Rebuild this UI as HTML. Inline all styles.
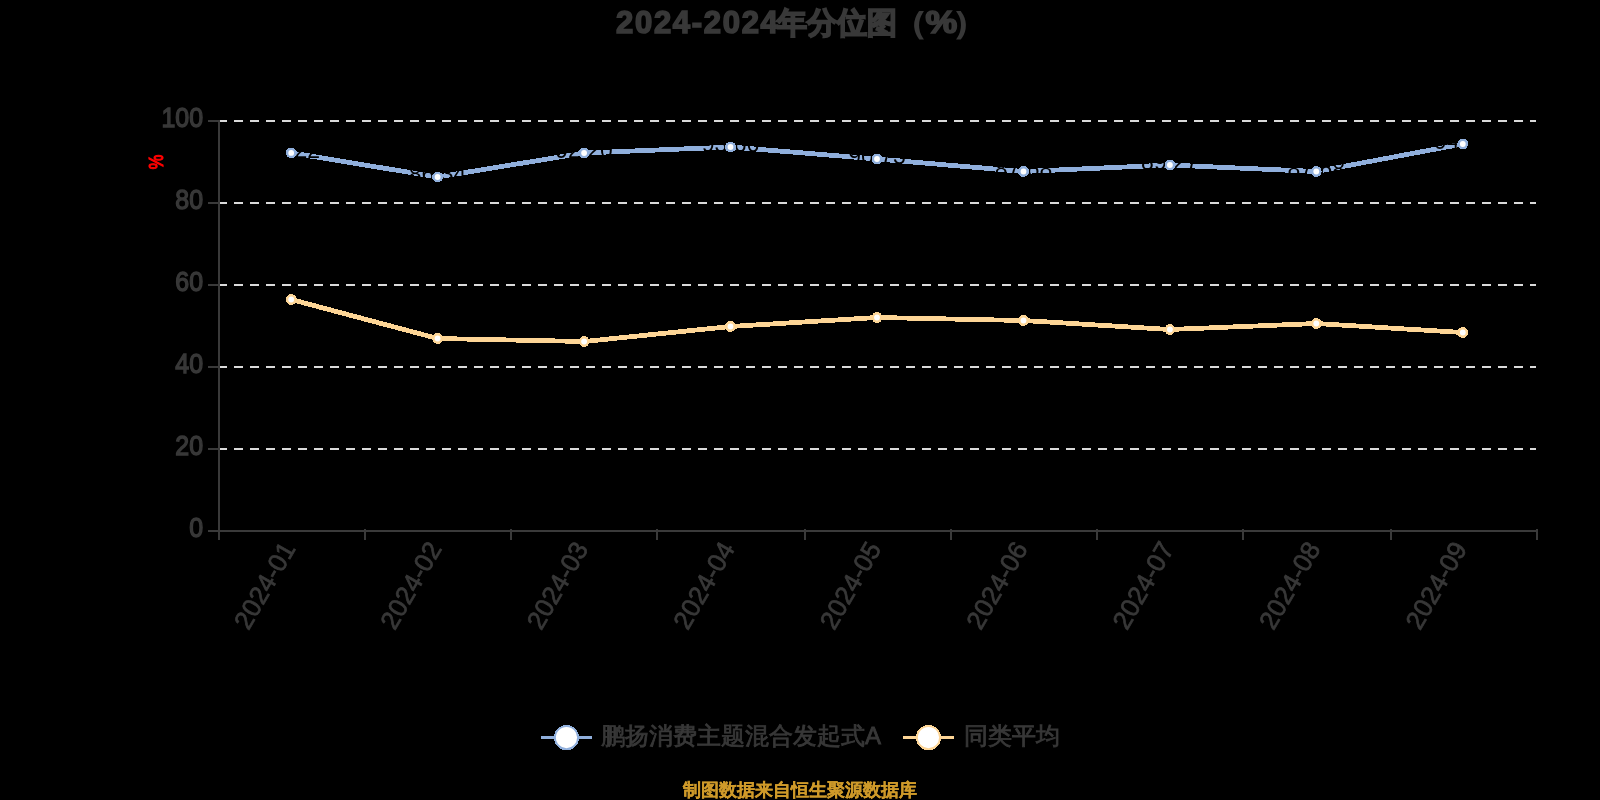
<!DOCTYPE html>
<html><head><meta charset="utf-8"><style>
html,body{margin:0;padding:0;background:#000;width:1600px;height:800px;overflow:hidden}
svg{display:block;will-change:transform}
text{font-family:"Liberation Sans",sans-serif}
.yl{font-size:28px;fill:#383838;stroke:#383838;stroke-width:1.4px}
.xl{font-size:26px;fill:#383838;stroke:#383838;stroke-width:0.7px}
.lab{font-size:23px;fill:#000}
.yn{font-size:21px;fill:#f00;stroke:#f00;stroke-width:1.2px}
.ti{font-size:31px;font-weight:bold;fill:#383838;stroke:#383838;stroke-width:1.6px}
.cj{stroke-width:1.7px;font-size:29.5px}
.lg{font-size:24px;fill:#383838;stroke:#383838;stroke-width:0.8px}
.ft{font-size:18px;font-weight:bold;fill:#cf9a2a;stroke:#cf9a2a;stroke-width:0.2px}
</style></head><body>
<svg width="1600" height="800" viewBox="0 0 1600 800">
<rect width="1600" height="800" fill="#000"/>
<line x1="218" y1="449" x2="1536" y2="449" stroke="#dadada" stroke-width="2" stroke-dasharray="9 7"/>
<line x1="218" y1="367" x2="1536" y2="367" stroke="#dadada" stroke-width="2" stroke-dasharray="9 7"/>
<line x1="218" y1="285" x2="1536" y2="285" stroke="#dadada" stroke-width="2" stroke-dasharray="9 7"/>
<line x1="218" y1="203" x2="1536" y2="203" stroke="#dadada" stroke-width="2" stroke-dasharray="9 7"/>
<line x1="218" y1="121" x2="1536" y2="121" stroke="#dadada" stroke-width="2" stroke-dasharray="9 7"/>
<rect x="218" y="120" width="2" height="420" fill="#3a3a3a"/>
<rect x="208" y="530" width="10" height="2" fill="#3a3a3a"/>
<text transform="translate(203,537) scale(0.89,1)" text-anchor="end" class="yl">0</text>
<rect x="208" y="448" width="10" height="2" fill="#3a3a3a"/>
<text transform="translate(203,455) scale(0.89,1)" text-anchor="end" class="yl">20</text>
<rect x="208" y="366" width="10" height="2" fill="#3a3a3a"/>
<text transform="translate(203,373) scale(0.89,1)" text-anchor="end" class="yl">40</text>
<rect x="208" y="284" width="10" height="2" fill="#3a3a3a"/>
<text transform="translate(203,291) scale(0.89,1)" text-anchor="end" class="yl">60</text>
<rect x="208" y="202" width="10" height="2" fill="#3a3a3a"/>
<text transform="translate(203,209) scale(0.89,1)" text-anchor="end" class="yl">80</text>
<rect x="208" y="120" width="10" height="2" fill="#3a3a3a"/>
<text transform="translate(203,127) scale(0.89,1)" text-anchor="end" class="yl">100</text>
<rect x="208" y="530" width="1330" height="2" fill="#3a3a3a"/>
<rect x="218" y="529" width="2" height="11" fill="#3a3a3a"/>
<rect x="364" y="529" width="2" height="11" fill="#3a3a3a"/>
<rect x="510" y="529" width="2" height="11" fill="#3a3a3a"/>
<rect x="656" y="529" width="2" height="11" fill="#3a3a3a"/>
<rect x="804" y="529" width="2" height="11" fill="#3a3a3a"/>
<rect x="950" y="529" width="2" height="11" fill="#3a3a3a"/>
<rect x="1096" y="529" width="2" height="11" fill="#3a3a3a"/>
<rect x="1242" y="529" width="2" height="11" fill="#3a3a3a"/>
<rect x="1390" y="529" width="2" height="11" fill="#3a3a3a"/>
<rect x="1536" y="529" width="2" height="11" fill="#3a3a3a"/>
<text transform="translate(289.2,544.5) rotate(-60)" text-anchor="end" class="xl" dy="8">2024-01</text>
<text transform="translate(435.6,544.5) rotate(-60)" text-anchor="end" class="xl" dy="8">2024-02</text>
<text transform="translate(582.1,544.5) rotate(-60)" text-anchor="end" class="xl" dy="8">2024-03</text>
<text transform="translate(728.5,544.5) rotate(-60)" text-anchor="end" class="xl" dy="8">2024-04</text>
<text transform="translate(875.0,544.5) rotate(-60)" text-anchor="end" class="xl" dy="8">2024-05</text>
<text transform="translate(1021.5,544.5) rotate(-60)" text-anchor="end" class="xl" dy="8">2024-06</text>
<text transform="translate(1167.9,544.5) rotate(-60)" text-anchor="end" class="xl" dy="8">2024-07</text>
<text transform="translate(1314.3,544.5) rotate(-60)" text-anchor="end" class="xl" dy="8">2024-08</text>
<text transform="translate(1460.8,544.5) rotate(-60)" text-anchor="end" class="xl" dy="8">2024-09</text>
<polyline points="291.2,299.5 437.6,338.5 584.1,341.5 730.5,326.5 877.0,317.5 1023.5,320.5 1169.9,329.5 1316.3,323.5 1462.8,332.5" fill="none" stroke="#fdd596" stroke-width="4.8" stroke-linejoin="bevel" shape-rendering="crispEdges"/>
<circle cx="291.2" cy="299.5" r="5.4" fill="#fdd596" shape-rendering="crispEdges"/><circle cx="291.2" cy="299.5" r="2.9" fill="#fff"/>
<circle cx="437.6" cy="338.5" r="5.4" fill="#fdd596" shape-rendering="crispEdges"/><circle cx="437.6" cy="338.5" r="2.9" fill="#fff"/>
<circle cx="584.1" cy="341.5" r="5.4" fill="#fdd596" shape-rendering="crispEdges"/><circle cx="584.1" cy="341.5" r="2.9" fill="#fff"/>
<circle cx="730.5" cy="326.5" r="5.4" fill="#fdd596" shape-rendering="crispEdges"/><circle cx="730.5" cy="326.5" r="2.9" fill="#fff"/>
<circle cx="877.0" cy="317.5" r="5.4" fill="#fdd596" shape-rendering="crispEdges"/><circle cx="877.0" cy="317.5" r="2.9" fill="#fff"/>
<circle cx="1023.5" cy="320.5" r="5.4" fill="#fdd596" shape-rendering="crispEdges"/><circle cx="1023.5" cy="320.5" r="2.9" fill="#fff"/>
<circle cx="1169.9" cy="329.5" r="5.4" fill="#fdd596" shape-rendering="crispEdges"/><circle cx="1169.9" cy="329.5" r="2.9" fill="#fff"/>
<circle cx="1316.3" cy="323.5" r="5.4" fill="#fdd596" shape-rendering="crispEdges"/><circle cx="1316.3" cy="323.5" r="2.9" fill="#fff"/>
<circle cx="1462.8" cy="332.5" r="5.4" fill="#fdd596" shape-rendering="crispEdges"/><circle cx="1462.8" cy="332.5" r="2.9" fill="#fff"/>
<polyline points="291.2,152.9 437.6,177 584.1,153 730.5,147 877.0,159 1023.5,171.5 1169.9,165 1316.3,171.5 1462.8,144" fill="none" stroke="#90afdc" stroke-width="4.8" stroke-linejoin="bevel" shape-rendering="crispEdges"/>
<text x="291.2" y="157.9" text-anchor="middle" class="lab">92.22</text>
<text x="437.6" y="182" text-anchor="middle" class="lab">86.34</text>
<text x="584.1" y="158" text-anchor="middle" class="lab">92.20</text>
<text x="730.5" y="152" text-anchor="middle" class="lab">93.66</text>
<text x="877.0" y="164" text-anchor="middle" class="lab">90.73</text>
<text x="1023.5" y="176.5" text-anchor="middle" class="lab">87.68</text>
<text x="1169.9" y="170" text-anchor="middle" class="lab">89.27</text>
<text x="1316.3" y="176.5" text-anchor="middle" class="lab">87.68</text>
<text x="1462.8" y="149" text-anchor="middle" class="lab">94.39</text>
<circle cx="291.2" cy="152.9" r="5.4" fill="#90afdc" shape-rendering="crispEdges"/><circle cx="291.2" cy="152.9" r="2.9" fill="#fff"/>
<circle cx="437.6" cy="177" r="5.4" fill="#90afdc" shape-rendering="crispEdges"/><circle cx="437.6" cy="177" r="2.9" fill="#fff"/>
<circle cx="584.1" cy="153" r="5.4" fill="#90afdc" shape-rendering="crispEdges"/><circle cx="584.1" cy="153" r="2.9" fill="#fff"/>
<circle cx="730.5" cy="147" r="5.4" fill="#90afdc" shape-rendering="crispEdges"/><circle cx="730.5" cy="147" r="2.9" fill="#fff"/>
<circle cx="877.0" cy="159" r="5.4" fill="#90afdc" shape-rendering="crispEdges"/><circle cx="877.0" cy="159" r="2.9" fill="#fff"/>
<circle cx="1023.5" cy="171.5" r="5.4" fill="#90afdc" shape-rendering="crispEdges"/><circle cx="1023.5" cy="171.5" r="2.9" fill="#fff"/>
<circle cx="1169.9" cy="165" r="5.4" fill="#90afdc" shape-rendering="crispEdges"/><circle cx="1169.9" cy="165" r="2.9" fill="#fff"/>
<circle cx="1316.3" cy="171.5" r="5.4" fill="#90afdc" shape-rendering="crispEdges"/><circle cx="1316.3" cy="171.5" r="2.9" fill="#fff"/>
<circle cx="1462.8" cy="144" r="5.4" fill="#90afdc" shape-rendering="crispEdges"/><circle cx="1462.8" cy="144" r="2.9" fill="#fff"/>
<text transform="translate(163,162) rotate(-90) scale(0.78,1)" text-anchor="middle" class="yn">%</text>
<text y="33" class="ti"><tspan x="616" letter-spacing="1.7">2024-2024</tspan><tspan x="776.5" class="cj">年分位图</tspan><tspan x="895.5" class="cj">（</tspan><tspan x="953.5" class="cj">）</tspan></text>
<text transform="translate(925.5,33) scale(1.15,1)" class="ti">%</text>
<rect x="541" y="736" width="51" height="3" fill="#90afdc"/>
<circle cx="566.5" cy="737.6" r="12.6" fill="#90afdc" shape-rendering="crispEdges"/><circle cx="566.5" cy="737.6" r="10.6" fill="#fff"/>
<text x="601" y="744" class="lg">鹏扬消费主题混合发起式A</text>
<rect x="903" y="736" width="51" height="3" fill="#fdd596"/>
<circle cx="928.5" cy="737.6" r="12.6" fill="#fdd596" shape-rendering="crispEdges"/><circle cx="928.5" cy="737.6" r="10.6" fill="#fff"/>
<text x="964" y="744" class="lg">同类平均</text>
<text x="800" y="796" text-anchor="middle" class="ft">制图数据来自恒生聚源数据库</text>
</svg>
</body></html>
